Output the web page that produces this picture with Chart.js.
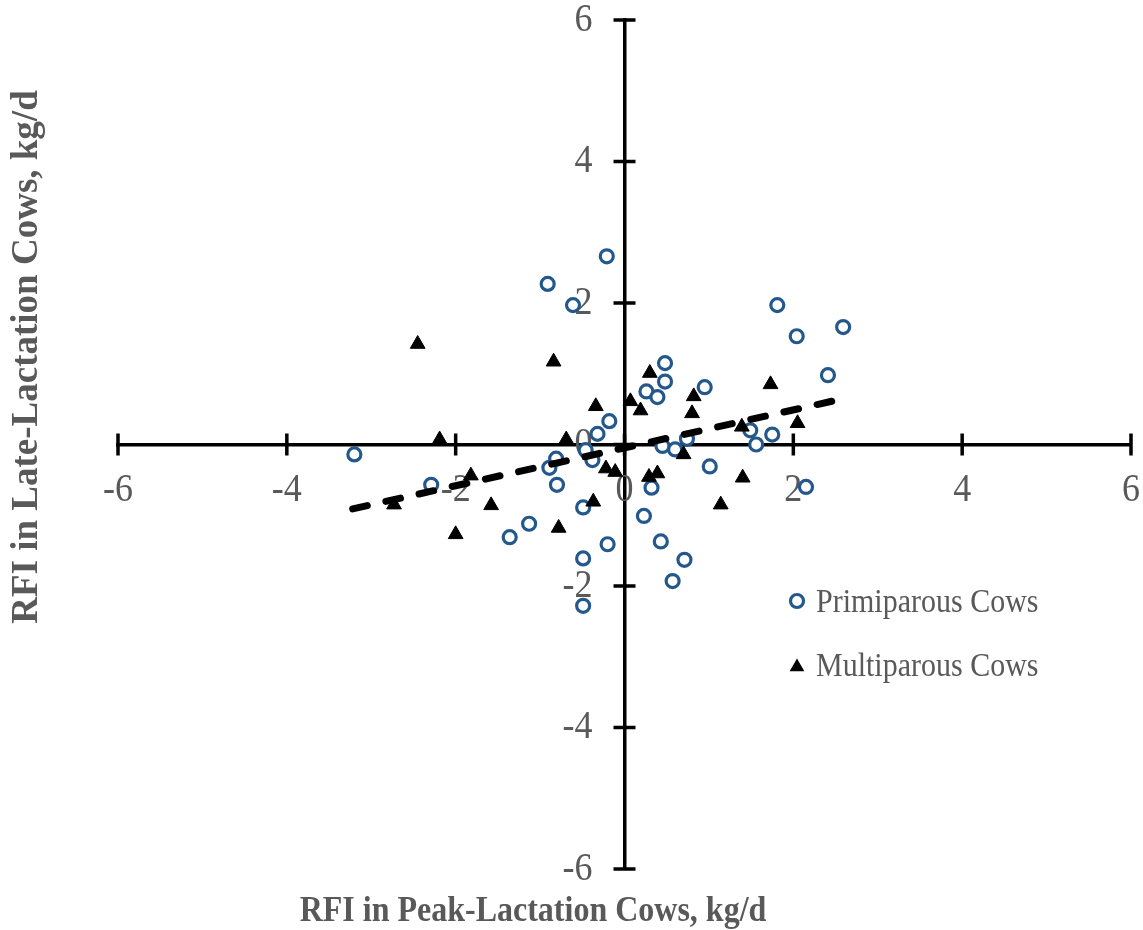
<!DOCTYPE html>
<html>
<head>
<meta charset="utf-8">
<script src="https://cdn.jsdelivr.net/npm/chart.js@4.4.1/dist/chart.umd.min.js"></script>
<style>
  html, body { margin: 0; padding: 0; background: #fff; }
  #wrap { width: 1143px; height: 930px; }
</style>
</head>
<body>
<div id="wrap"><canvas id="rfi-chart" width="1143" height="930"></canvas></div>
<script>
// Primiparous cows (open circles)
const primX = [-0.21, -0.91, -0.61, -0.18, -0.32, -3.20, -0.46, -0.38, -0.81, -0.89,
               -0.80, -2.29, -0.49, -1.13, -1.36, -0.20, -0.49, -0.49, 1.81, 2.59,
               2.04, 0.48, 0.48, 0.26, 0.39, 0.95, 2.41, 1.49, 1.75, 1.56,
               0.74, 0.45, 0.60, 1.01, 0.32, 2.15, 0.23, 0.43, 0.71, 0.57];
const primY = [2.66, 2.27, 1.97, 0.33, 0.15, -0.14, -0.08, -0.22, -0.20, -0.33,
               -0.57, -0.57, -0.89, -1.12, -1.31, -1.41, -1.61, -2.28, 1.97, 1.66,
               1.53, 1.15, 0.89, 0.75, 0.67, 0.81, 0.98, 0.20, 0.14, 0.00,
               0.08, -0.02, -0.07, -0.31, -0.61, -0.60, -1.01, -1.37, -1.63, -1.93];

// Multiparous cows (filled triangles)
const multX = [-2.45, -0.84, -0.34, -2.19, -0.69, -0.22, -0.11, -1.82, -0.37, -1.58,
               -2.73, -0.78, -2.00, 0.30, 0.07, 0.19, 0.82, 0.80, 1.73, 1.39,
               2.05, 0.70, 0.29, 0.39, 1.40, 1.14];
const multY = [1.42, 1.17, 0.54, 0.07, 0.07, -0.34, -0.39, -0.44, -0.81, -0.86,
               -0.85, -1.18, -1.27, 1.01, 0.61, 0.48, 0.68, 0.44, 0.85, 0.25,
               0.30, -0.14, -0.46, -0.41, -0.47, -0.85];

// Dashed trend line, end points
const trendX = [-3.22, 2.60];
const trendY = [-0.91, 0.65];

const axisTicks = [-6, -4, -2, 0, 2, 4, 6];
const seriesNames = ['Primiparous Cows', 'Multiparous Cows'];
const xTitle = 'RFI in Peak-Lactation Cows, kg/d';
const yTitle = 'RFI in Late-Lactation Cows, kg/d';

const SERIF = "'Liberation Serif', 'Times New Roman', serif";
const GREY = '#595959';
const BLUE = '#24588c';
const STRETCH = 1.13; // glyphs in the picture are a little taller than wide

function toPoints(xs, ys) {
  return xs.map((x, i) => ({ x: x, y: ys[i] }));
}

// draws text slightly stretched in height
function tallText(ctx, text, x, y) {
  ctx.save();
  ctx.translate(x, y);
  ctx.scale(1, STRETCH);
  ctx.fillText(text, 0, 0);
  ctx.restore();
}

// tick marks crossing the axis lines, and the tick labels beside them
const crossTicks = {
  id: 'crossTicks',
  beforeDatasetsDraw(chart) {
    const { ctx, scales: { x, y } } = chart;
    const x0 = x.getPixelForValue(0);
    const y0 = y.getPixelForValue(0);
    ctx.save();
    ctx.strokeStyle = '#000';
    ctx.lineWidth = 3.5;
    ctx.beginPath();
    axisTicks.forEach(v => {
      const px = x.getPixelForValue(v);
      ctx.moveTo(px, y0 - 11);
      ctx.lineTo(px, y0 + 11);
      const py = y.getPixelForValue(v);
      ctx.moveTo(x0 - 11, py);
      ctx.lineTo(x0 + 11, py);
    });
    ctx.stroke();

    ctx.fillStyle = GREY;
    ctx.font = '36px ' + SERIF;
    ctx.textBaseline = 'middle';
    ctx.textAlign = 'center';
    axisTicks.forEach(v => {
      tallText(ctx, String(v), x.getPixelForValue(v), y0 + 46);
    });
    ctx.textAlign = 'right';
    axisTicks.forEach(v => {
      tallText(ctx, String(v), x0 - 32, y.getPixelForValue(v));
    });
    ctx.restore();
  }
};

// axis titles and the legend at the lower right
const titlesAndLegend = {
  id: 'titlesAndLegend',
  afterDraw(chart) {
    const { ctx } = chart;
    ctx.save();
    ctx.fillStyle = GREY;
    ctx.textAlign = 'center';
    ctx.textBaseline = 'middle';

    ctx.font = 'bold 32px ' + SERIF;
    tallText(ctx, xTitle, 533, 912);

    ctx.save();
    ctx.translate(27, 357);
    ctx.rotate(-Math.PI / 2);
    ctx.font = 'bold 37px ' + SERIF;
    ctx.fillText(yTitle, 0, 0);
    ctx.restore();

    // legend
    ctx.font = '30px ' + SERIF;
    ctx.textAlign = 'left';
    ctx.textBaseline = 'middle';
    tallText(ctx, seriesNames[0], 816, 603);
    tallText(ctx, seriesNames[1], 816, 667);

    ctx.beginPath();
    ctx.arc(797, 601, 6.5, 0, Math.PI * 2);
    ctx.fillStyle = '#fff';
    ctx.fill();
    ctx.lineWidth = 3.2;
    ctx.strokeStyle = BLUE;
    ctx.stroke();

    const r = 8.5, cx = 797, cy = 667;
    ctx.beginPath();
    ctx.moveTo(cx, cy - r);
    ctx.lineTo(cx + r * Math.sin(2 * Math.PI / 3), cy - r * Math.cos(2 * Math.PI / 3));
    ctx.lineTo(cx + r * Math.sin(4 * Math.PI / 3), cy - r * Math.cos(4 * Math.PI / 3));
    ctx.closePath();
    ctx.fillStyle = '#000';
    ctx.fill();
    ctx.restore();
  }
};

function axisOptions(pos) {
  return {
    type: 'linear',
    min: -6,
    max: 6,
    position: pos,
    afterBuildTicks: (scale) => { scale.ticks = axisTicks.map(v => ({ value: v })); },
    grid: { display: false, drawTicks: false },
    border: { display: true, color: '#000', width: 3.5 },
    ticks: { display: false }
  };
}

new Chart(document.getElementById('rfi-chart'), {
  type: 'scatter',
  data: {
    datasets: [
      {
        type: 'line',
        label: 'Trend',
        data: toPoints(trendX, trendY),
        borderColor: '#000',
        borderWidth: 7,
        borderDash: [15, 19],
        borderCapStyle: 'round',
        pointRadius: 0,
        fill: false,
        order: 0
      },
      {
        label: seriesNames[0],
        data: toPoints(primX, primY),
        pointStyle: 'circle',
        pointRadius: 6.5,
        borderWidth: 3.2,
        borderColor: BLUE,
        backgroundColor: '#fff',
        order: 2
      },
      {
        label: seriesNames[1],
        data: toPoints(multX, multY),
        pointStyle: 'triangle',
        pointRadius: 8.5,
        borderWidth: 1,
        borderColor: '#000',
        backgroundColor: '#000',
        order: 1
      }
    ]
  },
  options: {
    responsive: false,
    animation: false,
    layout: { padding: { left: 118, right: 12, top: 20, bottom: 61 } },
    plugins: {
      legend: { display: false },
      tooltip: { enabled: false }
    },
    scales: {
      x: axisOptions({ y: 0 }),
      y: axisOptions({ x: 0 })
    }
  },
  plugins: [crossTicks, titlesAndLegend]
});
</script>
</body>
</html>
